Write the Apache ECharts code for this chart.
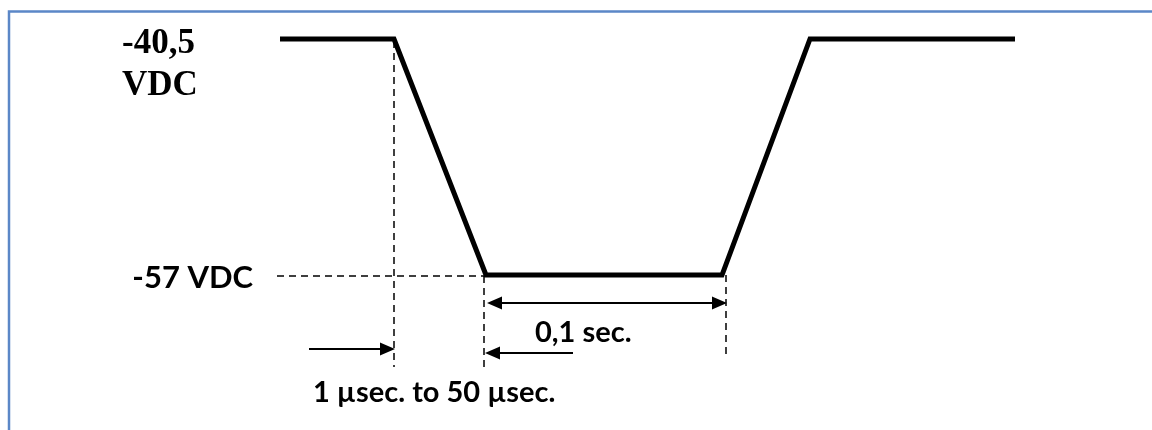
<!DOCTYPE html>
<html>
<head>
<meta charset="utf-8">
<script src="https://cdn.jsdelivr.net/npm/echarts@6/dist/echarts.min.js"></script>
<style>
    html, body { margin: 0; padding: 0; background: #fff; }
    #chart { width: 1152px; height: 430px; }
</style>
</head>
<body>
<div id="chart"></div>
<script>
// Waveform (schematic time units, volts)
const timePoints = [0, 11.4, 20.6, 44.2, 53, 73.5];
const levels = [-40.5, -40.5, -57, -57, -40.5, -40.5];
const highLevel = -40.5;
const lowLevel = -57;

// Texts
const highLabel = ['-40,5', 'VDC'];
const lowLabel = '-57 VDC';
const holdLabel = '0,1 sec.';
const fallLabel = '1 \u00b5sec. to 50 \u00b5sec.';

const chart = echarts.init(document.getElementById('chart'));

chart.setOption({
    animation: false,
    grid: { left: 280, right: 137, top: 39, bottom: 155 },
    xAxis: { type: 'value', min: 0, max: 73.5, show: false },
    yAxis: { type: 'value', min: lowLevel, max: highLevel, show: false },
    series: [{
        type: 'line',
        data: timePoints.map((t, i) => [t, levels[i]]),
        symbol: 'none',
        clip: false,
        lineStyle: { color: '#000', width: 5, join: 'miter' }
    }]
});

// Annotations placed from the axis scales
const px = (t, v) => chart.convertToPixel({ gridIndex: 0 }, [t, v]);
const fallStart = px(timePoints[1], highLevel);
const fallEnd = px(timePoints[2], lowLevel);
const riseStart = px(timePoints[3], lowLevel);

const dash = { stroke: '#000', lineWidth: 1.5, lineDash: [7, 5] };
const thin = { stroke: '#000', lineWidth: 2 };

function dashed(x1, y1, x2, y2) {
    return { type: 'line', shape: { x1, y1, x2, y2 }, style: dash, z: 5 };
}
function head(x, y, dir) {
    // dir = 1 points right, -1 points left
    const len = 15, half = 6.5;
    return {
        type: 'polygon',
        shape: { points: [[x, y], [x - dir * len, y - half], [x - dir * len, y + half]] },
        style: { fill: '#000' }, z: 6
    };
}
function shaft(x1, x2, y) {
    return { type: 'line', shape: { x1, y1: y, x2, y2: y }, style: thin, z: 6 };
}

const rowLow = fallEnd[1];
const guideBottom = rowLow + 92;
const rowDouble = rowLow + 28;
const rowArrows = rowLow + 76;

const elements = [
    // frame
    { type: 'polyline', shape: { points: [[9, 440], [9, 11.5], [1160, 11.5]] },
      style: { stroke: '#5b87c7', lineWidth: 2.5, fill: null } },
    // guides
    dashed(fallStart[0], fallStart[1] + 2, fallStart[0], guideBottom),
    dashed(fallEnd[0] - 2, rowLow + 1, fallEnd[0] - 2, guideBottom),
    dashed(riseStart[0] + 4, rowLow, riseStart[0] + 4, guideBottom - 9),
    dashed(277, rowLow + 1, fallEnd[0] - 2, rowLow + 1),
    // 0,1 sec. double arrow
    shaft(fallEnd[0] + 10, riseStart[0] - 10, rowDouble),
    head(fallEnd[0] + 1, rowDouble, -1),
    head(riseStart[0] + 5, rowDouble, 1),
    // rise time arrows
    shaft(309, fallStart[0] - 8, rowArrows - 2),
    head(fallStart[0] + 1, rowArrows - 2, 1),
    shaft(fallEnd[0] + 8, fallEnd[0] + 87, rowArrows + 2),
    head(fallEnd[0] - 1, rowArrows + 2, -1),
    // labels
    { type: 'text', x: 122, y: fallStart[1] + 26,
      style: { text: highLabel.join('\n'), font: 'bold 35px "Liberation Serif"', fill: '#000',
               lineHeight: 42, verticalAlign: 'middle' } },
    { type: 'text', x: 253, y: rowLow + 3,
      style: { text: lowLabel, font: 'bold 31px Lato', fill: '#000', align: 'right', verticalAlign: 'middle' } },
    { type: 'text', x: 535, y: rowLow + 58,
      style: { text: holdLabel, font: 'bold 29px Lato', fill: '#000', verticalAlign: 'middle' } },
    { type: 'text', x: 313, y: rowLow + 118,
      style: { text: fallLabel, font: 'bold 29px Lato', fill: '#000', verticalAlign: 'middle' } }
];

chart.setOption({ graphic: { elements } });
</script>
</body>
</html>
